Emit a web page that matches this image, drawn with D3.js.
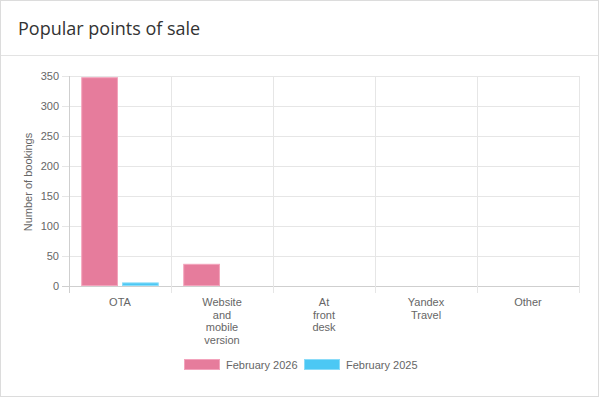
<!DOCTYPE html>
<html><head><meta charset="utf-8">
<script src="https://cdn.jsdelivr.net/npm/d3@7"></script>
<style>
body{margin:0;background:#fff;}
svg{display:block;}
</style></head>
<body><svg id="c" width="600" height="398"></svg>
<script>
const categories = [["OTA"],["Website","and","mobile","version"],["At","front","desk"],["Yandex","Travel"],["Other"]];
const seriesNames = ["February 2026","February 2025"];
const feb2026 = [348, 37, 0, 0, 0];
const feb2025 = [6, 0, 0, 0, 0];
const yTicks = [0,50,100,150,200,250,300,350];
const colors = ["#e67c9c","#4cc8f4"];
const borders = ["#f3a3bc","#8adcf9"];

const svg = d3.select("#c");
const font = "'Liberation Sans', Arial, Helvetica, sans-serif";
// card
svg.append("rect").attr("x",0.5).attr("y",0.5).attr("width",598).attr("height",396)
  .attr("fill","#fff").attr("stroke","#dcdcdc");
svg.append("line").attr("x1",1).attr("x2",598).attr("y1",55.5).attr("y2",55.5).attr("stroke","#e3e3e3");
svg.append("text").attr("x",18).attr("y",35).text("Popular points of sale")
  .attr("font-family","'Open Sans', sans-serif").attr("font-size",18).attr("fill","#333");

const x = d3.scaleBand().domain(d3.range(categories.length)).range([69,579]);
const y = d3.scaleLinear().domain([0,350]).range([286,76]);
const inner = d3.scaleBand().domain([0,1]).range([0, x.bandwidth()*0.8]);

const g = svg.append("g");
// horizontal grid
yTicks.forEach(t=>{
  g.append("line").attr("x1",62).attr("x2",579).attr("y1",Math.round(y(t))+0.5).attr("y2",Math.round(y(t))+0.5)
   .attr("stroke", t===0 ? "#cfcfcf" : "#e6e6e6");
  g.append("text").attr("x",59).attr("y",y(t)+4).attr("text-anchor","end").text(t)
   .attr("font-family",font).attr("font-size",11).attr("fill","#666");
});
// vertical grid
for(let i=0;i<=categories.length;i++){
  const xx = i<categories.length ? x(i) : x(categories.length-1)+x.bandwidth();
  g.append("line").attr("x1",Math.round(xx)+0.5).attr("x2",Math.round(xx)+0.5).attr("y1",76).attr("y2",293)
   .attr("stroke", i===0 ? "#cfcfcf" : "#e6e6e6");
}
// bars
const data = [feb2026, feb2025];
data.forEach((vals,s)=>{
  vals.forEach((v,i)=>{
    if(v<=0) return;
    const slot = inner.bandwidth();
    const bw = slot*0.9;
    const bx = x(i) + x.bandwidth()*0.1 + inner(s) + (slot-bw)/2;
    g.append("rect").attr("x",bx+0.5).attr("y",y(v)+0.5).attr("width",bw-1).attr("height",y(0)-y(v)-1)
      .attr("fill",colors[s]).attr("stroke",borders[s]).attr("stroke-width",1);
  });
});
// x labels
categories.forEach((lines,i)=>{
  const t = g.append("text").attr("text-anchor","middle").attr("font-family",font).attr("font-size",11).attr("fill","#666");
  lines.forEach((l,k)=>{
    t.append("tspan").attr("x",x(i)+x.bandwidth()/2).attr("y",306+k*12.7).text(l);
  });
});
// y label
svg.append("text").attr("transform","translate(32,182) rotate(-90)").attr("text-anchor","middle")
  .attr("font-family",font).attr("font-size",11).attr("fill","#666").text("Number of bookings");
// legend
const legendX = [184, 304];
seriesNames.forEach((n,s)=>{
  svg.append("rect").attr("x",legendX[s]+0.5).attr("y",359.5).attr("width",35).attr("height",10)
    .attr("fill",colors[s]).attr("stroke",borders[s]);
  svg.append("text").attr("x",legendX[s]+42).attr("y",368.5).text(n)
    .attr("font-family",font).attr("font-size",11).attr("fill","#666");
});
</script></body></html>
